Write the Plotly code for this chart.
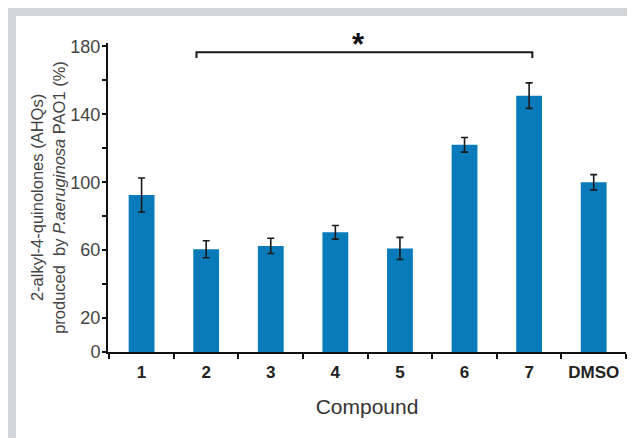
import plotly.graph_objects as go

categories = ["1", "2", "3", "4", "5", "6", "7", "DMSO"]
values = [92.5, 60.5, 62.5, 70.5, 61, 122, 151, 100]
errors = [10, 5, 4.5, 4, 6.5, 4.3, 7.5, 4.5]
y_tickvals = [0, 20, 40, 60, 80, 100, 120, 140, 160, 180]
y_ticktext = ["0", "20", "", "60", "", "100", "", "140", "", "180"]

# page body has an 8px offset; compensate so the figure fills the 635x438 window
OFF = 8
W, H = 635 - OFF, 438 - OFF
L, R, T, B = 108 - OFF, 9, 43 - OFF, 86
pw, ph = W - L - R, H - T - B

def px_x(p):
    return (p - OFF - L) / pw

def px_y(p):
    return (H - B - (p - OFF)) / ph

fig = go.Figure()
fig.add_trace(go.Bar(
    x=categories, y=values,
    marker=dict(color="#0A7BBA", line=dict(width=0)),
    width=0.40,
    error_y=dict(type="data", array=errors, visible=True, color="#1a1a1a",
                 thickness=1.6, width=3.5),
))

# gray frame strips (top and left)
fig.add_shape(type="rect", xref="paper", yref="paper",
              x0=px_x(7), x1=px_x(16), y0=px_y(460), y1=px_y(7),
              fillcolor="#d4d5d7", line=dict(width=0), layer="below")
fig.add_shape(type="rect", xref="paper", yref="paper",
              x0=px_x(7), x1=px_x(660), y0=px_y(16), y1=px_y(7),
              fillcolor="#d4d5d7", line=dict(width=0), layer="below")

# significance bracket
fig.add_shape(type="path", xref="x", yref="y",
              path="M 0.85,173.2 L 0.85,176.6 L 6.05,176.6 L 6.05,173.2",
              line=dict(color="#1a1a1a", width=2))
fig.add_annotation(x=3.36, y=181, xref="x", yref="y", text="<b>*</b>",
                   showarrow=False, font=dict(size=31, color="#111",
                                              family="Liberation Sans"))

fig.update_layout(
    width=W, height=H,
    margin=dict(l=L, r=R, t=T, b=B),
    paper_bgcolor="white", plot_bgcolor="white",
    showlegend=False,
    font=dict(family="Liberation Sans, Arial, sans-serif", color="#333"),
    xaxis=dict(
        type="category", range=[-0.52, 7.5],
        showline=True, linecolor="#111", linewidth=2,
        ticks="outside", ticklen=5, tickwidth=2, tickcolor="#111",
        tickson="boundaries",
        tickfont=dict(size=17, color="#222", weight="bold"),
        ticklabelstandoff=4,
        title=dict(text="Compound", font=dict(size=21, color="#333"), standoff=18),
        showgrid=False, zeroline=False,
    ),
    yaxis=dict(
        range=[0, 182],
        tickvals=y_tickvals, ticktext=y_ticktext,
        showline=True, linecolor="#111", linewidth=2,
        ticks="outside", ticklen=4, tickwidth=2, tickcolor="#111",
        tickfont=dict(size=18, color="#444"),
        ticklabelstandoff=-2,
        title=dict(text="2-alkyl-4-quinolones (AHQs)<br>produced  by <i>P.aeruginosa</i> PAO1 (%)",
                   font=dict(size=16.5, color="#444"), standoff=1),
        showgrid=False, zeroline=False,
    ),
)

fig.write_html("out.html")
